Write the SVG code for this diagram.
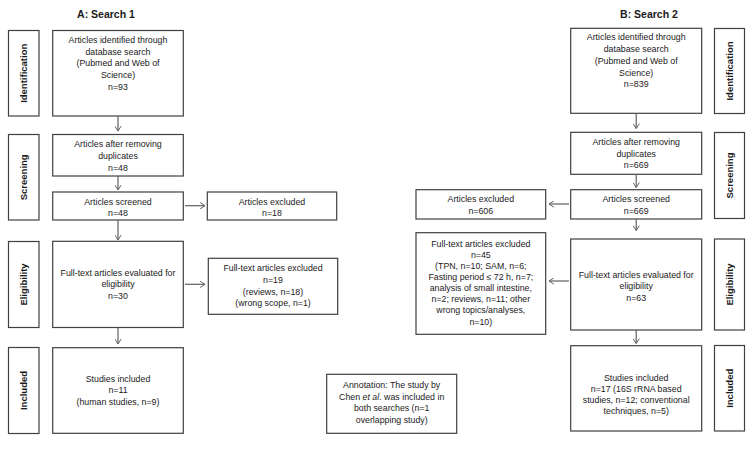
<svg xmlns="http://www.w3.org/2000/svg" width="754" height="453" viewBox="0 0 754 453">
<style>
.b{fill:#fff;stroke:#404040;stroke-width:1.2}
.t{font-family:"Liberation Sans",Arial,sans-serif;font-size:8.8px;fill:#1a1a1a;text-anchor:middle}
.s{font-family:"Liberation Sans",Arial,sans-serif;font-size:9.5px;font-weight:bold;fill:#1a1a1a;text-anchor:middle}
.h{font-family:"Liberation Sans",Arial,sans-serif;font-size:10.5px;font-weight:bold;fill:#1a1a1a;text-anchor:middle}
.c{fill:none;stroke:#606060;stroke-width:1.2}
</style>
<defs>
<marker id="ah" viewBox="0 0 10 10" refX="9" refY="5" markerWidth="7" markerHeight="7" markerUnits="userSpaceOnUse" orient="auto">
<polyline points="2,0.5 9,5 2,9.5" fill="none" stroke="#606060" stroke-width="1.4"/>
</marker>
</defs>
<rect width="754" height="453" fill="#fff"/>
<text class="h" x="106" y="17.5">A: Search 1</text>
<text class="h" x="649" y="17.5">B: Search 2</text>

<g id="stages">
<g id="a-ident"><rect class="b" x="8.5" y="30.5" width="30.5" height="85.5"/><text class="s" transform="translate(27.2,73.3) rotate(-90)">Identification</text></g>
<g id="a-screen"><rect class="b" x="8.5" y="134.5" width="30.5" height="85.5"/><text class="s" transform="translate(27.2,177.3) rotate(-90)">Screening</text></g>
<g id="a-elig"><rect class="b" x="8.5" y="241.5" width="30.5" height="86"/><text class="s" transform="translate(27.2,284.5) rotate(-90)">Eligibility</text></g>
<g id="a-incl"><rect class="b" x="8.5" y="347.5" width="30.5" height="86"/><text class="s" transform="translate(27.2,390.5) rotate(-90)">Included</text></g>
<g id="b-ident"><rect class="b" x="714.5" y="28.5" width="30" height="85"/><text class="s" transform="translate(732.7,71) rotate(-90)">Identification</text></g>
<g id="b-screen"><rect class="b" x="714.5" y="132.5" width="30" height="86"/><text class="s" transform="translate(732.7,175.5) rotate(-90)">Screening</text></g>
<g id="b-elig"><rect class="b" x="714.5" y="239" width="30" height="91"/><text class="s" transform="translate(732.7,284.5) rotate(-90)">Eligibility</text></g>
<g id="b-incl"><rect class="b" x="714.5" y="345.5" width="30" height="85.5"/><text class="s" transform="translate(732.7,388.3) rotate(-90)">Included</text></g>
</g>

<g id="a1"><rect class="b" x="52.7" y="30.5" width="130.6" height="85.5"/>
<text class="t" x="118" y="42.7">Articles identified through</text>
<text class="t" x="118" y="54.5">database search</text>
<text class="t" x="118" y="66.3"> (Pubmed and Web of</text>
<text class="t" x="118" y="78.1">Science)</text>
<text class="t" x="118" y="89.9">n=93</text></g>

<g id="a2"><rect class="b" x="52.7" y="134.5" width="130.6" height="41.5"/>
<text class="t" x="118" y="147.3">Articles after removing</text>
<text class="t" x="118" y="158.9">duplicates</text>
<text class="t" x="118" y="170.5">n=48</text></g>

<g id="a3"><rect class="b" x="52.7" y="192" width="130.6" height="28"/>
<text class="t" x="118" y="204.5">Articles screened</text>
<text class="t" x="118" y="216">n=48</text></g>

<g id="a3x"><rect class="b" x="207.3" y="192" width="129.4" height="28"/>
<text class="t" x="272" y="204.5">Articles excluded</text>
<text class="t" x="272" y="216">n=18</text></g>

<g id="a4"><rect class="b" x="52.7" y="241.3" width="130.6" height="86.2"/>
<text class="t" x="118" y="275.5">Full-text articles evaluated for</text>
<text class="t" x="118" y="287">eligibility</text>
<text class="t" x="118" y="298.5">n=30</text></g>

<g id="a4x"><rect class="b" x="208.3" y="258.3" width="129.4" height="56"/>
<text class="t" x="273" y="271">Full-text articles excluded</text>
<text class="t" x="273" y="282.8">n=19</text>
<text class="t" x="273" y="294.6">(reviews, n=18)</text>
<text class="t" x="273" y="306.2">(wrong scope, n=1)</text></g>

<g id="a5"><rect class="b" x="52.7" y="347.7" width="130.6" height="85.6"/>
<text class="t" x="118" y="381.5">Studies included</text>
<text class="t" x="118" y="393.2">n=11</text>
<text class="t" x="118" y="404.9">(human studies, n=9)</text></g>

<g id="note"><rect class="b" x="326.7" y="374.3" width="130" height="59"/>
<text class="t" x="391.7" y="388.3">Annotation: The study by</text>
<text class="t" x="391.7" y="399.8">Chen <tspan font-style="italic">et al</tspan>. was included in</text>
<text class="t" x="391.7" y="411.3">both searches (n=1</text>
<text class="t" x="391.7" y="422.8">overlapping study)</text></g>

<g id="b1"><rect class="b" x="570.7" y="28.3" width="131" height="85"/>
<text class="t" x="636.2" y="40.2">Articles identified through</text>
<text class="t" x="636.2" y="52">database search</text>
<text class="t" x="636.2" y="63.8"> (Pubmed and Web of</text>
<text class="t" x="636.2" y="75.6">Science)</text>
<text class="t" x="636.2" y="87.4">n=839</text></g>

<g id="b2"><rect class="b" x="570.7" y="132.3" width="131" height="42"/>
<text class="t" x="636.2" y="145">Articles after removing</text>
<text class="t" x="636.2" y="156.6">duplicates</text>
<text class="t" x="636.2" y="168">n=669</text></g>

<g id="b3"><rect class="b" x="570.7" y="189.7" width="131" height="29.3"/>
<text class="t" x="636.2" y="202.2">Articles screened</text>
<text class="t" x="636.2" y="213.8">n=669</text></g>

<g id="b3x"><rect class="b" x="416" y="189.7" width="129.7" height="29.3"/>
<text class="t" x="480.8" y="202.2">Articles excluded</text>
<text class="t" x="480.8" y="213.8">n=606</text></g>

<g id="b4"><rect class="b" x="570.7" y="239" width="131" height="91"/>
<text class="t" x="636.2" y="278">Full-text articles evaluated for</text>
<text class="t" x="636.2" y="289.4">eligibility</text>
<text class="t" x="636.2" y="300.8">n=63</text></g>

<g id="b4x"><rect class="b" x="416" y="232.7" width="129.7" height="101.6"/>
<text class="t" x="480.8" y="246.8">Full-text articles excluded</text>
<text class="t" x="480.8" y="257.9">n=45</text>
<text class="t" x="480.8" y="269">(TPN, n=10; SAM, n=6;</text>
<text class="t" x="480.8" y="280.1">Fasting period ≤ 72 h, n=7;</text>
<text class="t" x="480.8" y="291.2">analysis of small intestine,</text>
<text class="t" x="480.8" y="302.3">n=2; reviews, n=11; other</text>
<text class="t" x="480.8" y="313.4">wrong topics/analyses,</text>
<text class="t" x="480.8" y="324.5">n=10)</text></g>

<g id="b5"><rect class="b" x="570.7" y="345.7" width="131" height="85.3"/>
<text class="t" x="636.2" y="380.5">Studies included</text>
<text class="t" x="636.2" y="391.8">n=17 (16S rRNA based</text>
<text class="t" x="636.2" y="403.1">studies, n=12; conventional</text>
<text class="t" x="636.2" y="414.4">techniques, n=5)</text></g>

<g id="connectors">
<line class="c" x1="118" y1="116" x2="118" y2="131" marker-end="url(#ah)"/>
<line class="c" x1="118" y1="176" x2="118" y2="190" marker-end="url(#ah)"/>
<line class="c" x1="118" y1="220" x2="118" y2="240" marker-end="url(#ah)"/>
<line class="c" x1="118" y1="327.5" x2="118" y2="344" marker-end="url(#ah)"/>
<line class="c" x1="185" y1="205.7" x2="205" y2="205.7" marker-end="url(#ah)"/>
<line class="c" x1="185" y1="284.3" x2="205" y2="284.3" marker-end="url(#ah)"/>
<line class="c" x1="636.2" y1="113.3" x2="636.2" y2="128.5" marker-end="url(#ah)"/>
<line class="c" x1="636.2" y1="174.3" x2="636.2" y2="187.5" marker-end="url(#ah)"/>
<line class="c" x1="636.2" y1="219" x2="636.2" y2="230.5" marker-end="url(#ah)"/>
<line class="c" x1="636.2" y1="330" x2="636.2" y2="343.5" marker-end="url(#ah)"/>
<line class="c" x1="569" y1="204" x2="549" y2="204" marker-end="url(#ah)"/>
<line class="c" x1="569" y1="281" x2="549" y2="281" marker-end="url(#ah)"/>
</g>
</svg>
